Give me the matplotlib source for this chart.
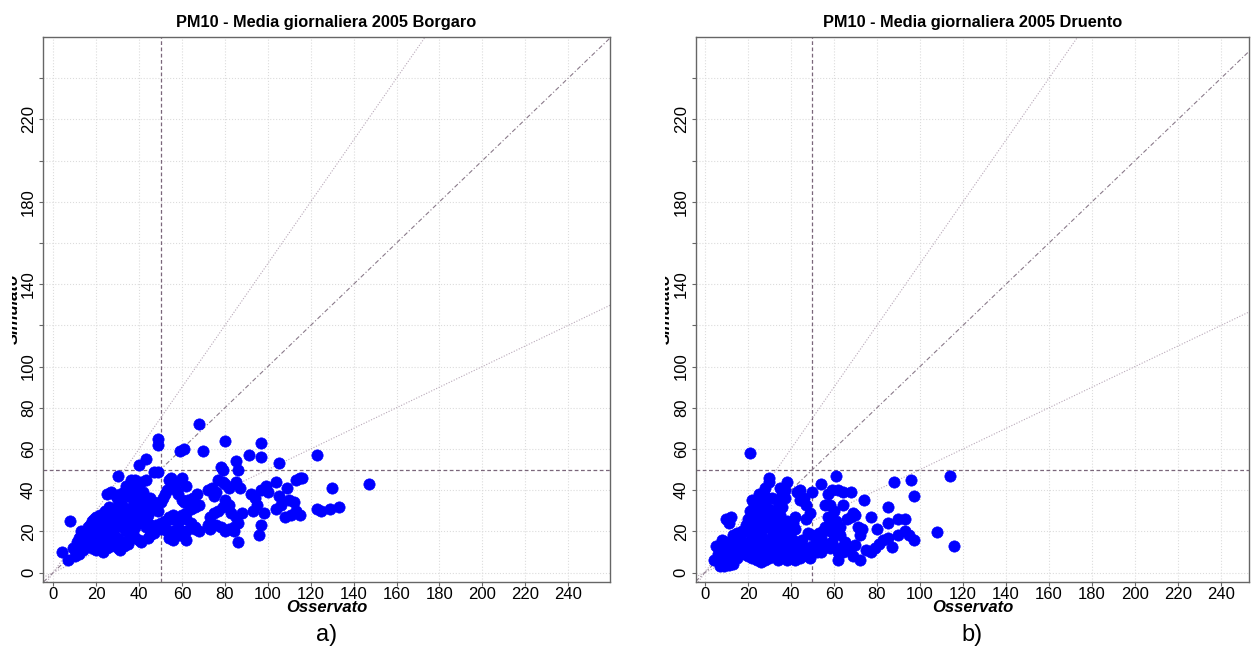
import numpy as np
import matplotlib.pyplot as plt
from matplotlib.transforms import Bbox

plt.rcParams['font.family'] = ['Liberation Sans', 'DejaVu Sans']

borgaro_pts = [
    (68, 72), (49, 65), (49, 62), (80, 64), (97, 63), (97, 56), (123, 57), (91, 57),
    (59, 59), (61, 60), (70, 59), (43, 55), (40, 52), (85, 54), (105, 53), (78, 51),
    (79, 50), (86, 50), (47, 49), (49, 49), (30, 47), (147, 43), (130, 41), (133, 32),
    (129, 31), (125, 30), (123, 31), (115, 46), (113, 45), (116, 46), (109, 41), (104, 44),
    (105, 37), (106, 33), (104, 31), (99, 42), (100, 39), (97, 40), (108, 27), (111, 28),
    (113, 30), (115, 28), (110, 35), (112, 34), (96, 18), (97, 23), (86, 15), (93, 30),
    (95, 33), (92, 38), (94, 36), (98, 29), (85, 44), (87, 41), (83, 29), (85, 27),
    (86, 24), (88, 29), (84, 22), (77, 45), (79, 44), (80, 43), (82, 41), (80, 35),
    (82, 33), (79, 32), (77, 30), (75, 29), (73, 27), (78, 22), (80, 20), (82, 21),
    (84, 20), (76, 23), (72, 23), (73, 21), (72, 40), (74, 41), (76, 39), (75, 37),
    (67, 38), (65, 36), (63, 35), (60, 35), (61, 34), (68, 33), (66, 32), (64, 31),
    (62, 29), (60, 28), (62, 26), (64, 24), (66, 22), (68, 20), (66, 21), (62, 20),
    (62, 16), (60, 20), (58, 21), (56, 20), (60, 46), (62, 42), (55, 46), (57, 44),
    (54, 45), (55, 42), (57, 40), (58, 38), (53, 40), (52, 38), (51, 36), (56, 28),
    (54, 27), (52, 25), (50, 24), (55, 26), (58, 24), (59, 18), (54, 17), (56, 16),
    (50, 21), (52, 22), (53, 20), (45, 36), (47, 34), (48, 32), (50, 34), (49, 30),
    (46, 31), (44, 28), (42, 26), (44, 24), (43, 22), (45, 18), (44, 17), (41, 15),
    (40, 16), (38, 17), (47, 19), (48, 23), (46, 21), (43, 45), (41, 44), (40, 38),
    (42, 39), (38, 45), (36, 45), (37, 43), (8, 25), (4, 10), (7, 6), (10, 8),
    (12, 9), (9, 12), (12, 13), (14, 11), (11, 15), (13, 18), (13, 20), (15, 19),
    (16, 17), (15, 14), (18, 12), (20, 11), (23, 10), (25, 12), (27, 13), (30, 12),
    (31, 11), (32, 15), (35, 16), (37, 19), (36, 21), (19, 26), (20, 24), (22, 22),
    (24, 21), (18, 21), (17, 23), (21, 19), (23, 17), (25, 16), (27, 18), (28, 20),
    (26, 22), (24, 26), (26, 27), (25, 38), (27, 39), (29, 37), (30, 35), (31, 38),
    (33, 39), (35, 37), (32, 33), (34, 31), (36, 29), (30, 29), (28, 27), (31, 26),
    (33, 25), (35, 24), (37, 26), (38, 28), (39, 30), (40, 32), (34, 28), (37, 33),
    (38, 36), (40, 40), (36, 40), (34, 42), (29, 31), (27, 30), (25, 28), (23, 25),
    (21, 22), (19, 20), (17, 18), (22, 15), (20, 13), (18, 15), (16, 13), (14, 16),
    (12, 17), (28, 24), (30, 23), (32, 22), (34, 20), (36, 23), (38, 22), (40, 25),
    (42, 30), (44, 33), (26, 32), (24, 30), (22, 28), (20, 27), (18, 25), (16, 22),
    (30, 17), (28, 16), (26, 14), (24, 13), (33, 13), (35, 14), (22, 19), (24, 18),
    (26, 20), (38, 33), (40, 35), (42, 34), (39, 38), (37, 38),
]

druento_pts = [
    (21, 58), (114, 47), (116, 13), (108, 19.5), (61, 47), (30, 46), (30, 44), (96, 45),
    (88, 44), (97, 37), (54, 43), (38, 44), (28, 41), (35, 41), (37, 40), (36, 38),
    (43, 39), (44, 40), (44, 35), (50, 39), (57, 38), (59, 40), (62, 40), (64, 39),
    (68, 39), (74, 35), (85, 32), (93, 26), (90, 26), (77, 27), (69, 29), (70, 28),
    (66, 26), (68, 27), (71, 22), (73, 21), (72, 18), (80, 21), (85, 24), (85, 17),
    (83, 16), (81, 14), (79, 12), (77, 10), (75, 11), (87, 12.5), (90, 18), (93, 20),
    (95, 18), (97, 16), (70, 13.5), (69, 8), (72, 6), (62, 6), (64, 10), (66, 13),
    (65, 15), (63, 12), (67, 11), (56, 33), (58, 33), (60, 30), (64, 33), (57, 27),
    (58, 24), (60, 22), (58, 20), (60, 18), (56, 22), (59, 15), (58, 12), (55, 12),
    (52, 10), (50, 13), (52, 15), (54, 17), (50, 18), (48, 19), (49, 29), (47, 26),
    (49, 7), (48, 8), (45, 12), (43, 10), (41, 11), (40, 9), (38, 12), (39, 15),
    (40, 20), (41, 24), (42, 27), (40, 22), (38, 25), (42, 21), (35, 28), (33, 30),
    (36, 32), (34, 34), (37, 36), (32, 27), (30, 31), (28, 33), (26, 30), (24, 35),
    (22, 35), (23, 32), (25, 33), (10, 26), (12, 27), (11, 24), (5, 13), (4, 6),
    (7, 3), (9, 3), (11, 3.5), (13, 4), (8, 16), (10, 15), (12, 14), (14, 16),
    (16, 18), (18, 20), (19, 23), (20, 22), (17, 20), (15, 19), (13, 18), (14, 12),
    (16, 10), (18, 9), (20, 8), (22, 7), (24, 6), (26, 5), (28, 6), (30, 7),
    (32, 8), (34, 6), (36, 9), (15, 7), (12, 8), (10, 9), (8, 7), (6, 9),
    (9, 11), (7, 12), (18, 12), (20, 14), (22, 16), (24, 18), (26, 20), (28, 22),
    (30, 24), (22, 24), (24, 26), (26, 28), (20, 26), (21, 19), (23, 21), (25, 23),
    (27, 25), (29, 27), (31, 20), (33, 18), (35, 16), (37, 19), (32, 14), (30, 12),
    (28, 10), (26, 12), (24, 10), (22, 12), (20, 10), (18, 15), (16, 14), (14, 9),
    (25, 15), (27, 17), (29, 15), (31, 17), (33, 22), (35, 24), (37, 22), (39, 18),
    (41, 16), (43, 14), (45, 16), (47, 12), (46, 9), (44, 7), (42, 6), (34, 12),
    (36, 14), (38, 6), (28, 14), (23, 29), (21, 30), (25, 38), (26, 36), (28, 37),
    (23, 33), (31, 36), (33, 26), (46, 36), (47, 33), (51, 12), (53, 19), (55, 20),
    (61, 20), (63, 18), (61, 25), (63, 22), (57, 14), (62, 10), (54, 10),
]

stations = ['Borgaro', 'Druento']
panel_tags = ['a)', 'b)']
ticks = np.arange(0, 260, 20)
ytick_labels = ['0', '20', '40', '60', '80', '100', '', '140', '', '180', '', '220', '']
limit = 50
slopes = [1.5, 1.0, 0.5]

W, H = 1251, 650
fig = plt.figure(figsize=(W / 100, H / 100), dpi=100)

# axes boxes in pixels: left, right, top, bottom
boxes = [(43, 610, 37, 582), (695.7, 1249, 37, 582)]
xlims = [(-4.8, 259.5), (-4.3, 253)]
ylim = (-4.6, 260)

for i, (pts, name) in enumerate(zip([borgaro_pts, druento_pts], stations)):
    l, r, t, b = boxes[i]
    ax = fig.add_axes([l / W, 1 - b / H, (r - l) / W, (b - t) / H])
    pts = np.array(pts)

    for v in ticks:
        ax.axvline(v, color='#dcdcdc', lw=0.8, ls=':', zorder=0)
        ax.axhline(v, color='#dcdcdc', lw=0.8, ls=':', zorder=0)

    ax.axhline(limit, color='#7a667a', lw=0.9, ls=(0, (3, 2)), zorder=1)
    ax.axvline(limit, color='#7a667a', lw=0.9, ls=(0, (3, 2)), zorder=1)
    for s in slopes:
        if s == 1.0:
            ax.axline((0, 0), slope=s, color='#8a7a8a', lw=0.8, ls=(0, (4, 2, 1, 2)), zorder=1)
        else:
            ax.axline((0, 0), slope=s, color='#b8a8b8', lw=0.8, ls=(0, (1, 1.5)), zorder=1)

    ax.scatter(pts[:, 0], pts[:, 1], s=66, color='#0000ff', edgecolors='#0000ff',
               linewidths=0.5, zorder=3)

    ax.set_xlim(*xlims[i])
    ax.set_ylim(*ylim)
    ax.set_xticks(ticks)
    ax.set_yticks(ticks)
    ax.set_yticklabels(ytick_labels, rotation=90, va='center')
    ax.tick_params(labelsize=12, length=3, width=0.8, color='#666666')
    ax.tick_params(axis='x', pad=0.5)
    ax.tick_params(axis='y', pad=2)
    for sp in ax.spines.values():
        sp.set_color('#666666')
        sp.set_linewidth(1.0)

    ax.set_title(f'PM10 - Media giornaliera 2005 {name}', fontsize=11.8,
                 fontweight='bold', pad=7)
    ax.set_xlabel('Osservato', fontsize=12, fontweight='bold', style='italic',
                  labelpad=-1)

    # y label, partly cut off on the left as in the original
    yl = fig.text((l - 30) / W, 1 - 309 / H, 'Simulato', rotation=90,
                  fontsize=12, fontweight='bold', style='italic',
                  ha='center', va='center')
    yl.set_clip_box(Bbox.from_extents(l - 31, 0, l, H))
    yl.set_clip_on(True)

    fig.text((l + r) / 2 / W, 1 - 635 / H, panel_tags[i], fontsize=17,
             ha='center', va='center')

fig.savefig('out.png', dpi=100)
